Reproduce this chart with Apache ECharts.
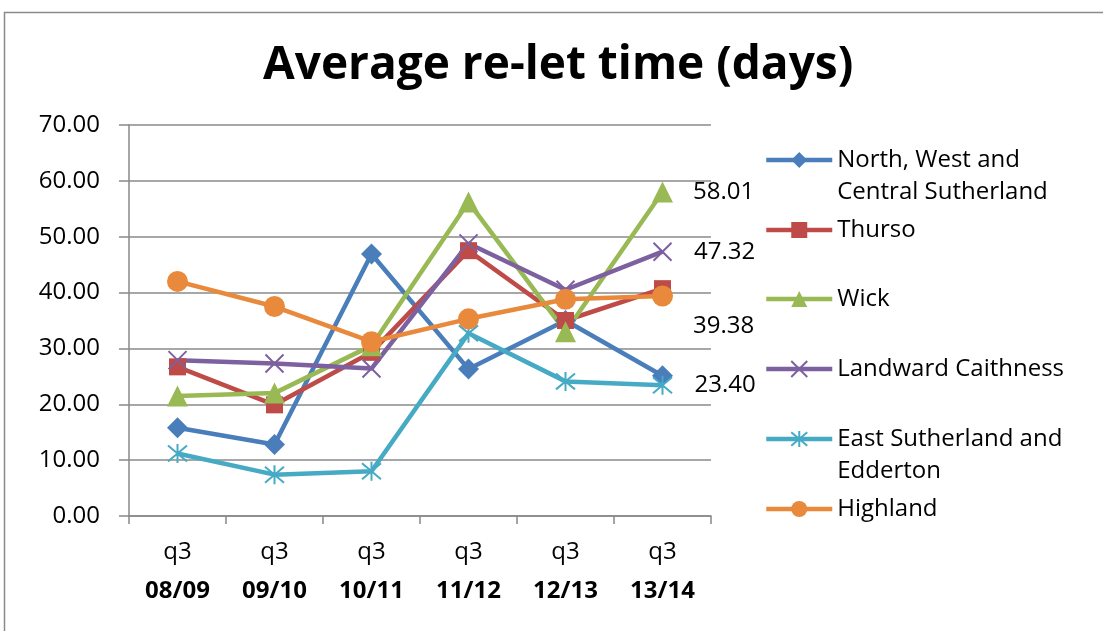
<!DOCTYPE html>
<html>
<head>
<meta charset="utf-8">
<script src="https://cdn.jsdelivr.net/npm/echarts@6/dist/echarts.min.js"></script>
<style>
  html, body { margin: 0; padding: 0; background: #fff; }
  #chart { width: 1103px; height: 631px; }
</style>
</head>
<body>
<div id="chart"></div>
<script>
// values
const categories = ['08/09', '09/10', '10/11', '11/12', '12/13', '13/14'];
const yTicks = [0, 10, 20, 30, 40, 50, 60, 70];
const northWest = [15.8, 12.8, 46.9, 26.3, 35.0, 25.1];
const thurso = [26.7, 19.9, 29.3, 47.5, 35.0, 40.7];
const wick = [21.5, 22.0, 30.5, 56.2, 33.0, 58.01];
const landward = [27.9, 27.3, 26.4, 48.8, 40.5, 47.32];
const eastSutherland = [11.2, 7.4, 8.0, 32.7, 24.1, 23.40];
const highland = [42.0, 37.5, 31.2, 35.3, 38.8, 39.38];

const FONT = 'Open Sans';
const FS = 24;

const seriesDefs = [
  { name: 'North, West and Central Sutherland', data: northWest, color: '#4A7EBB', symbol: 'diamond', size: 21 },
  { name: 'Thurso', data: thurso, color: '#BE4B48', symbol: 'rect', size: 17 },
  { name: 'Wick', data: wick, color: '#98B954', symbol: 'triangle', size: 21, lastLabel: true },
  { name: 'Landward Caithness', data: landward, color: '#7D60A0', symbol: 'path://M0,0L10,10M10,0L0,10', size: 18, stroke: true, lastLabel: true },
  { name: 'East Sutherland and Edderton', data: eastSutherland, color: '#46AAC5', symbol: 'path://M5,0L5,10M0.8,0.8L9.2,9.2M9.2,0.8L0.8,9.2', size: 19, stroke: true, lastLabel: true },
  { name: 'Highland', data: highland, color: '#E8893B', symbol: 'circle', size: 21, lastLabel: true, labelOffset: [0, 30] }
];

// empty top line keeps the icon level with the first text line
const legendNames = {
  'North, West and Central Sutherland': ' \nNorth, West and\nCentral Sutherland',
  'East Sutherland and Edderton': ' \nEast Sutherland and\nEdderton'
};
// icon centre y for each legend entry
const legendY = [160, 230, 299, 369, 439, 509];

const chart = echarts.init(document.getElementById('chart'));

const series = seriesDefs.map(s => {
  const data = s.data.map((v, i) => {
    if (s.lastLabel && i === s.data.length - 1) {
      return {
        value: v,
        label: {
          show: true, position: 'right', distance: 20,
          offset: s.labelOffset || [0, 0],
          formatter: p => p.value.toFixed(2),
          fontFamily: FONT, fontSize: FS, color: '#000'
        }
      };
    }
    return v;
  });
  return {
    name: s.name,
    type: 'line',
    data: data,
    symbol: s.symbol,
    symbolSize: s.size,
    showAllSymbol: true,
    lineStyle: { color: s.color, width: 4.5 },
    itemStyle: s.stroke
      ? { color: 'none', borderColor: s.color, borderWidth: 2 }
      : { color: s.color },
    emphasis: { disabled: true },
    animation: false
  };
});

const legends = seriesDefs.map((s, i) => {
  const lines = (legendNames[s.name] || s.name).split('\n').length;
  return {
    data: [s.name],
    left: 764,
    top: legendY[i] - lines * 16,
    padding: 0,
    itemWidth: 66,
    itemHeight: 20,
    itemGap: 6,
    formatter: n => legendNames[n] || n,
    selectedMode: false,
    lineStyle: { width: 4.5 },
    textStyle: { fontFamily: FONT, fontSize: FS, color: '#000', lineHeight: 32 }
  };
});

chart.setOption({
  backgroundColor: '#fff',
  animation: false,
  title: {
    text: 'Average re-let time (days)',
    left: 258,
    top: 38,
    textStyle: { fontFamily: FONT, fontSize: 46, fontWeight: 'bold', color: '#000' }
  },
  graphic: [{
    type: 'rect',
    shape: { x: 4.5, y: 12.5, width: 1200, height: 700 },
    style: { fill: 'none', stroke: '#8a8a8a', lineWidth: 1.5 },
    silent: true
  }],
  legend: legends,
  grid: { left: 129, right: 392, top: 125, bottom: 115 },
  xAxis: {
    type: 'category',
    data: categories,
    boundaryGap: true,
    axisLine: { lineStyle: { color: '#888', width: 1.5 } },
    axisTick: { show: true, length: 8, interval: 0, lineStyle: { color: '#888', width: 1.5 } },
    axisLabel: {
      interval: 0,
      margin: 17,
      formatter: v => '{a|q3}\n{b|' + v + '}',
      rich: {
        a: { fontFamily: FONT, fontSize: FS, color: '#000', lineHeight: 39 },
        b: { fontFamily: FONT, fontSize: FS, fontWeight: 'bold', color: '#000', lineHeight: 39 }
      }
    }
  },
  yAxis: {
    type: 'value',
    min: yTicks[0],
    max: yTicks[yTicks.length - 1],
    interval: 10,
    axisLine: { show: true, lineStyle: { color: '#888', width: 1.5 } },
    axisTick: { show: true, length: 10, lineStyle: { color: '#888', width: 1.5 } },
    splitLine: { lineStyle: { color: '#8a8a8a', width: 1.5 } },
    axisLabel: {
      margin: 29,
      formatter: v => v.toFixed(2),
      fontFamily: FONT, fontSize: FS, color: '#000'
    }
  },
  series: series
});
</script>
</body>
</html>
